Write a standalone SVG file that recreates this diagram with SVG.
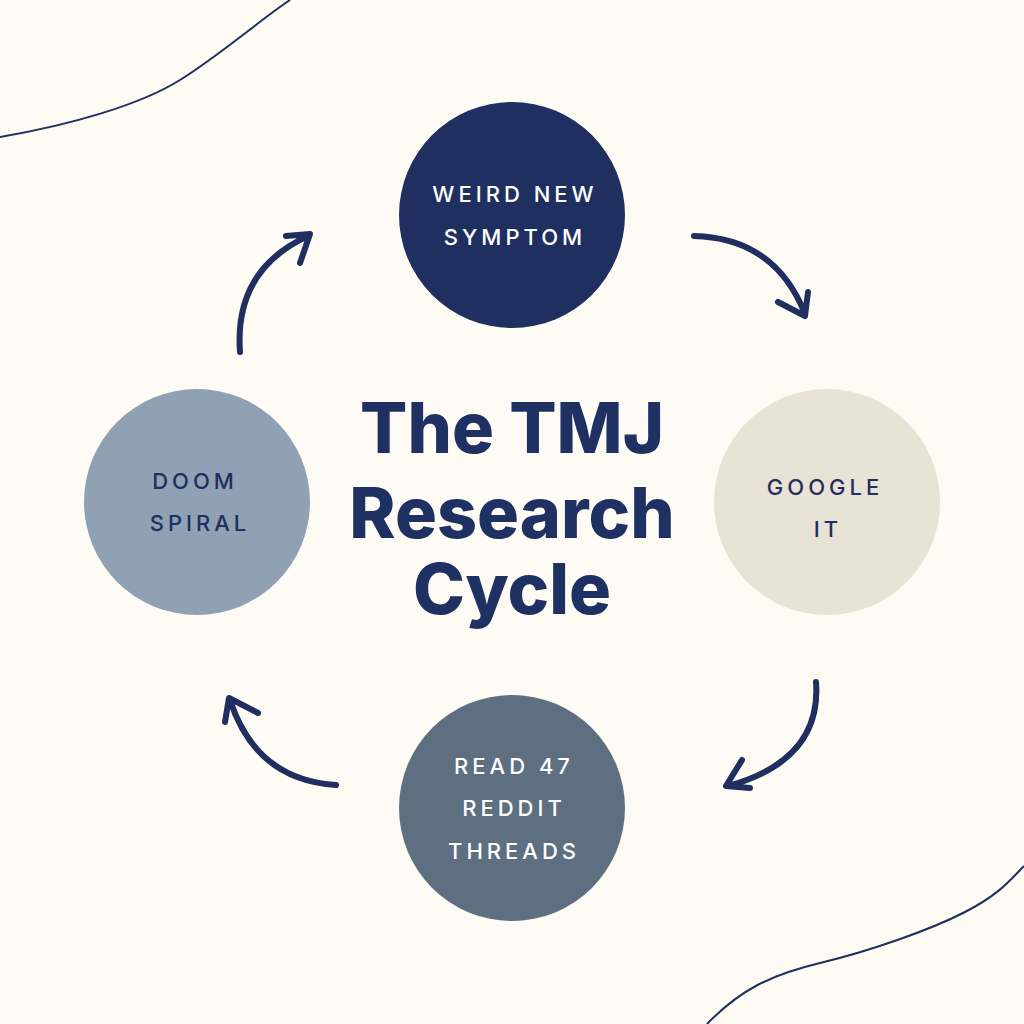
<svg xmlns="http://www.w3.org/2000/svg" width="1024" height="1024" viewBox="0 0 1024 1024">
<style>
.lbl{font-family:Inter,"Liberation Sans",sans-serif;font-size:22px;font-weight:500;letter-spacing:4px;text-anchor:middle}
.light{fill:#ffffff}
.dark{fill:#1f2f5f}
.title{font-family:Inter,"Liberation Sans",sans-serif;font-size:70px;font-weight:800;fill:#1f3163;text-anchor:middle}
.arr{fill:none;stroke:#1f2f5f;stroke-width:6;stroke-linecap:round;stroke-linejoin:round}
.deco{fill:none;stroke:#1f2f5f;stroke-width:2}
</style>
<rect width="1024" height="1024" fill="#fdfbf4"/>
<path class="deco" d="M0,137 C70,125 140,105 180,80 S260,20 290,0"/>
<path class="deco" d="M707,1024 C740,990 770,975 820,963 S930,930 965,912 S1010,880 1024,866"/>
<g id="title">
<text class="title" x="512" y="453">The TMJ</text>
<text class="title" x="512" y="538">Research</text>
<text class="title" x="512" y="614">Cycle</text>
</g>
<g id="node-weird">
<circle cx="512" cy="215" r="113" fill="#1f2f5f"/>
<text class="lbl light" x="515" y="202">WEIRD NEW</text>
<text class="lbl light" x="515" y="245">SYMPTOM</text>
</g>
<g id="node-google">
<circle cx="827" cy="502" r="113" fill="#e8e3d5"/>
<text class="lbl dark" x="825" y="495">GOOGLE</text>
<text class="lbl dark" x="828" y="537">IT</text>
</g>
<g id="node-reddit">
<circle cx="512" cy="808" r="113" fill="#5e6f82"/>
<text class="lbl light" x="514" y="774">READ 47</text>
<text class="lbl light" x="514" y="816">REDDIT</text>
<text class="lbl light" x="514" y="859">THREADS</text>
</g>
<g id="node-doom">
<circle cx="197" cy="502" r="113" fill="#8fa1b3"/>
<text class="lbl dark" x="195" y="489">DOOM</text>
<text class="lbl dark" x="200" y="531">SPIRAL</text>
</g>
<g id="connectors">
<path class="arr" d="M694,236 Q775,238 805,314 M778,302 L805,316 L808,292"/>
<path class="arr" d="M816,682 Q822,760 728,786 M742,760 L726,786 L750,788"/>
<path class="arr" d="M336,785 Q256,780 230,700 M225,722 L229,698 L258,713"/>
<path class="arr" d="M240,352 Q234,270 308,236 M286,236 L310,234 L300,263"/>
</g>
</svg>
